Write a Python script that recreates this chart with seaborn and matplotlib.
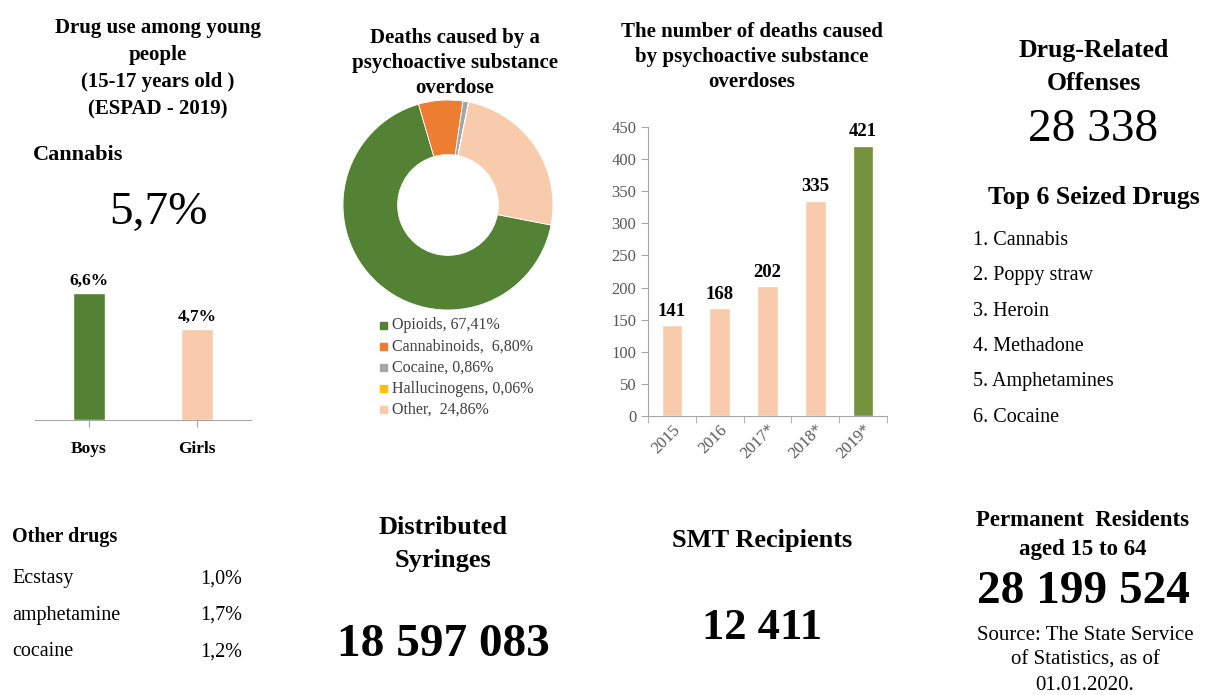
import matplotlib
matplotlib.use("Agg")
import matplotlib.pyplot as plt
from matplotlib.patches import Rectangle
import seaborn as sns

# ---- data ----
cannabis_groups = ["Boys", "Girls"]
cannabis_values = [6.6, 4.7]
cannabis_total = 5.7

overdose_labels = ["Opioids", "Cannabinoids", "Cocaine", "Hallucinogens", "Other"]
overdose_shares = [67.41, 6.80, 0.86, 0.06, 24.86]

years = ["2015", "2016", "2017*", "2018*", "2019*"]
deaths = [141, 168, 202, 335, 421]

seized_drugs = ["Cannabis", "Poppy straw", "Heroin", "Methadone", "Amphetamines", "Cocaine"]

other_drugs = ["Ecstasy", "amphetamine", "cocaine"]
other_values = [1.0, 1.7, 1.2]

offenses = 28338
syringes = 18597083
smt_recipients = 12411
residents = 28199524

GREEN = "#548235"
PEACH = "#F8CBAD"
OLIVE = "#76923C"
pie_colors = [GREEN, "#ED7D31", "#A5A5A5", "#FFC000", PEACH]

W, H = 1205, 695

sns.set_style("white")
plt.rcParams["font.family"] = ["Liberation Serif", "DejaVu Serif"]
plt.rcParams["text.color"] = "black"

fig = plt.figure(figsize=(W / 100, H / 100), dpi=100)


def comma(v):
    return f"{v:.1f}".replace(".", ",")


def spaced(n):
    return f"{n:,}".replace(",", " ")


def put(lines, x, y, pitch=0, **kw):
    # x, y in pixels from the top-left corner
    kw.setdefault("ha", "center")
    kw.setdefault("va", "center")
    for i, line in enumerate(lines):
        fig.text(x / W, 1 - (y + i * pitch) / H, line, **kw)


def axes_px(left, top, right, bottom):
    return fig.add_axes([left / W, 1 - bottom / H, (right - left) / W, (bottom - top) / H])


# ---- panel 1: cannabis ----
put(["Drug use among young", "people", "(15-17 years old )", "(ESPAD - 2019)"],
    158, 28, 27, fontsize=15, fontweight="bold")
put(["Cannabis"], 33, 155, fontsize=16, fontweight="bold", ha="left")
put([comma(cannabis_total) + "%"], 158, 213, fontsize=34)

ax1 = axes_px(35, 260, 251, 420)
sns.barplot(x=cannabis_groups, y=cannabis_values, hue=cannabis_groups,
            palette=[GREEN, PEACH], width=0.3, saturation=1, legend=False, ax=ax1)
ax1.set_xlim(-0.5, 1.5)
ax1.set_ylim(0, 8.3)
ax1.set_yticks([])
sns.despine(ax=ax1, left=True)
ax1.spines["bottom"].set_color("#A6A6A6")
ax1.tick_params(axis="x", length=5, color="#A6A6A6", labelsize=12.5, labelcolor="black",
                pad=10, bottom=True)
for lab in ax1.get_xticklabels():
    lab.set_fontweight("bold")
for cont, v in zip(ax1.containers, cannabis_values):
    ax1.bar_label(cont, labels=[comma(v) + "%"], padding=3, fontsize=12.5, fontweight="bold")
ax1.set_xlabel("")
ax1.set_ylabel("")

# ---- panel 2: donut ----
put(["Deaths caused by a", "psychoactive substance", "overdose"],
    455, 38, 25, fontsize=15, fontweight="bold")
ax2 = axes_px(343, 100, 553, 310)
ax2.pie(overdose_shares, colors=pie_colors, startangle=-11, counterclock=False,
        radius=1, wedgeprops=dict(width=0.52, edgecolor="white", linewidth=0.6))
ax2.set_xlim(-1, 1)
ax2.set_ylim(-1, 1)

legend_text = ["Opioids, 67,41%", "Cannabinoids,  6,80%", "Cocaine, 0,86%",
               "Hallucinogens, 0,06%", "Other,  24,86%"]
for i, (txt, c) in enumerate(zip(legend_text, pie_colors)):
    y = 325 + i * 21.2
    fig.add_artist(Rectangle((380 / W, 1 - (y + 3.5) / H), 7 / W, 7 / H,
                             transform=fig.transFigure, color=c))
    put([txt], 392, y, fontsize=11.5, ha="left", color="#404040")

# ---- panel 3: deaths by year ----
put(["The number of deaths caused", "by psychoactive substance", "overdoses"],
    752, 32, 25, fontsize=15, fontweight="bold")
ax3 = axes_px(648, 127, 887, 416)
sns.barplot(x=years, y=deaths, hue=years, palette=[PEACH] * 4 + [OLIVE],
            width=0.43, saturation=1, legend=False, ax=ax3)
ax3.set_xlim(-0.5, 4.5)
ax3.set_ylim(0, 450)
ax3.set_yticks(range(0, 451, 50))
sns.despine(ax=ax3)
for s in ["left", "bottom"]:
    ax3.spines[s].set_color("#A6A6A6")
ax3.tick_params(axis="y", length=5, color="#A6A6A6", labelsize=12, labelcolor="#595959", left=True)
ax3.set_xticks([i - 0.5 for i in range(6)], minor=True)
ax3.tick_params(axis="x", which="minor", length=5, color="#A6A6A6", bottom=True)
ax3.tick_params(axis="x", which="major", length=0, labelsize=12, labelcolor="#595959", pad=4)
for lab in ax3.get_xticklabels():
    lab.set_rotation(45)
    lab.set_ha("right")
    lab.set_rotation_mode("anchor")
for cont, v in zip(ax3.containers, deaths):
    ax3.bar_label(cont, labels=[str(v)], padding=4, fontsize=13.5, fontweight="bold")
ax3.set_xlabel("")
ax3.set_ylabel("")

# ---- panel 4: offenses / seized ----
put(["Drug-Related", "Offenses"], 1094, 50, 34, fontsize=18.5, fontweight="bold")
put([spaced(offenses)], 1093, 130, fontsize=34)
put(["Top 6 Seized Drugs"], 1094, 197, fontsize=18.5, fontweight="bold")
put([f"{i + 1}. {d}" for i, d in enumerate(seized_drugs)], 973, 240, 35.5,
    fontsize=14.5, ha="left")

# ---- bottom row ----
put(["Other drugs"], 12, 537, fontsize=14.5, fontweight="bold", ha="left")
for i, (d, v) in enumerate(zip(other_drugs, other_values)):
    put([d], 12, 579 + i * 36.5, fontsize=14.5, ha="left")
    put([comma(v) + "%"], 200, 579 + i * 36.5, fontsize=14.5, ha="left")

put(["Distributed", "Syringes"], 443, 528, 33, fontsize=19, fontweight="bold")
put([spaced(syringes)], 443, 645, fontsize=34, fontweight="bold")

put(["SMT Recipients"], 762, 540, fontsize=19, fontweight="bold")
put([spaced(smt_recipients)], 762, 628, fontsize=32, fontweight="bold")

put(["Permanent  Residents", "aged 15 to 64"], 1083, 521, 28, fontsize=16.5, fontweight="bold")
put([spaced(residents)], 1083, 592, fontsize=34, fontweight="bold")
put(["Source: The State Service", "of Statistics, as of", "01.01.2020."], 1085, 635, 25,
    fontsize=15)

fig.savefig("out.png", dpi=100)
